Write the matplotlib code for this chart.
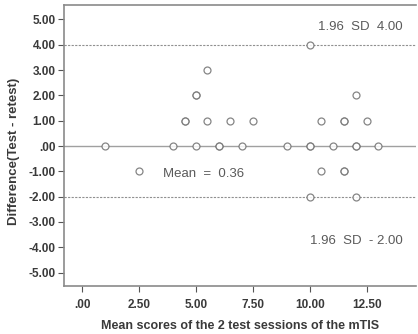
import matplotlib
matplotlib.use("Agg")
import matplotlib.pyplot as plt

# Bland-Altman data: mean of test/retest vs difference
mean_scores = [1.0, 4.0, 5.0, 6.0, 6.0, 7.0, 9.0, 10.0, 10.0, 11.0, 12.0, 12.0, 13.0,
               4.5, 4.5, 5.5, 6.5, 7.5, 10.5, 11.5, 11.5, 12.5,
               5.0, 5.0, 12.0,
               5.5,
               10.0,
               2.5, 10.5, 11.5, 11.5,
               10.0, 12.0]
differences = [0, 0, 0, 0, 0, 0, 0, 0, 0, 0, 0, 0, 0,
               1, 1, 1, 1, 1, 1, 1, 1, 1,
               2, 2, 2,
               3,
               4,
               -1, -1, -1, -1,
               -2, -2]

mean_diff = 0.36
upper_loa = 4.00
lower_loa = -2.00

x_ticks = [0, 2.5, 5, 7.5, 10, 12.5]
y_ticks = [5, 4, 3, 2, 1, 0, -1, -2, -3, -4, -5]


def spss_fmt(v):
    s = "%.2f" % v
    if s.startswith("0."):
        s = s[1:]
    elif s.startswith("-0."):
        s = "-" + s[2:]
    return s


W, H = 418, 334
fig = plt.figure(figsize=(W / 100, H / 100), dpi=100)
ax = fig.add_axes([64 / W, (H - 286) / H, (416 - 64) / W, (286 - 5) / H])

grey = "#8a8a8a"
ax.axhline(0, color="#a0a0a0", lw=1.0, zorder=1)
ax.axhline(upper_loa, color="#909090", lw=0.8, ls=(0, (2, 1.2)), zorder=1)
ax.axhline(lower_loa, color="#909090", lw=0.8, ls=(0, (2, 1.2)), zorder=1)

ax.plot(mean_scores, differences, "o", ms=5, mfc="white", mec="#707070",
        mew=0.9, alpha=0.85, zorder=3)

txt = dict(fontsize=9.5, color="#5a5a5a", family="Liberation Sans")
ax.text(10.35, 4.7, "1.96  SD  %.2f" % upper_loa, va="center", **txt)
ax.text(3.55, -1.1, "Mean  =  %.2f" % mean_diff, va="center", **txt)
ax.text(10.0, -3.75, "1.96  SD  - %.2f" % abs(lower_loa), va="center", **txt)

ax.set_xlim(-0.79, 14.65)
ax.set_ylim(-5.53, 5.57)
ax.set_xticks(x_ticks)
ax.set_xticklabels([spss_fmt(v) for v in x_ticks])
ax.set_yticks(y_ticks)
ax.set_yticklabels([spss_fmt(v) for v in y_ticks])

for side in ["left", "bottom", "top"]:
    ax.spines[side].set_color(grey)
    ax.spines[side].set_linewidth(1.2)
ax.spines["right"].set_visible(False)
ax.tick_params(direction="out", length=4, width=0.8, color="#555555",
               labelsize=8.5, labelcolor="#3a3a3a", pad=2)
for lbl in ax.get_xticklabels() + ax.get_yticklabels():
    lbl.set_family("Liberation Sans")
    lbl.set_fontweight("bold")
ax.tick_params(axis="x", pad=5)

ax.set_ylabel("Difference(Test - retest)", fontsize=9.5, fontweight="bold",
              family="Liberation Sans", color="#3a3a3a")
ax.yaxis.set_label_coords(-0.125, 0.48)
ax.set_xlabel("Mean scores of the 2 test sessions of the mTIS", fontsize=9,
              fontweight="bold", family="Liberation Sans", color="#3a3a3a")
ax.xaxis.set_label_coords(0.5, -0.12)

fig.savefig("out.png", dpi=100)
